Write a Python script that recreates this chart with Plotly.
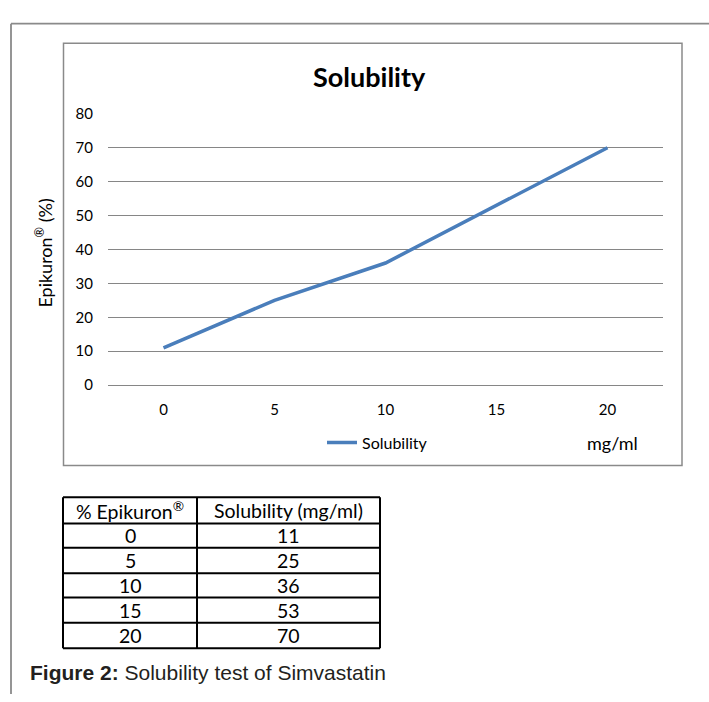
import plotly.graph_objects as go

# ---- data ----
epikuron = [0, 5, 10, 15, 20]
solubility = [11, 25, 36, 53, 70]
y_ticks = [0, 10, 20, 30, 40, 50, 60, 70, 80]
series_name = "Solubility"
table_headers = ["% Epikuron®", "Solubility (mg/ml)"]

W, H = 709, 702
FONT = "Lato"


def px(x):
    return x / W


def py(y):
    return 1 - y / H


fig = go.Figure()
fig.add_trace(go.Scatter(
    x=epikuron, y=solubility, mode="lines", name=series_name,
    line=dict(color="#4a7ebb", width=3.5),
))

shapes = []
annotations = []

# outer frame (left + top)
shapes.append(dict(type="line", xref="paper", yref="paper", x0=px(11), x1=px(709),
                   y0=py(14), y1=py(14), line=dict(color="#8a8a8a", width=1.8)))
shapes.append(dict(type="line", xref="paper", yref="paper", x0=px(11), x1=px(11),
                   y0=py(14), y1=py(702), line=dict(color="#8a8a8a", width=1.8)))
# chart box
shapes.append(dict(type="rect", xref="paper", yref="paper", x0=px(63.5), x1=px(682),
                   y0=py(467.5), y1=py(34), line=dict(color="#8a8a8a", width=1.5)))

# title
annotations.append(dict(text="<b>Solubility</b>", xref="paper", yref="paper",
                        x=px(369.5), y=py(68), showarrow=False,
                        font=dict(family=FONT, size=27, color="#000000"),
                        xanchor="center", yanchor="middle"))
# y label
annotations.append(dict(text="Epikuron<sup>®</sup> (%)", xref="paper", yref="paper",
                        x=px(44), y=py(250), showarrow=False, textangle=-90,
                        font=dict(family=FONT, size=18, color="#000000"),
                        xanchor="center", yanchor="middle"))
# mg/ml unit
annotations.append(dict(text="mg/ml", xref="paper", yref="paper",
                        x=px(612), y=py(444), showarrow=False,
                        font=dict(family=FONT, size=18, color="#000000"),
                        xanchor="center", yanchor="middle"))

# table
col_x = [63, 197, 380]
row_y = [500, 527, 552, 578, 603, 629, 655]
tc = dict(color="#000000", width=2)
for y in row_y:
    shapes.append(dict(type="line", xref="paper", yref="paper", x0=px(col_x[0]), x1=px(col_x[-1]),
                       y0=py(y), y1=py(y), line=tc))
for x in col_x:
    shapes.append(dict(type="line", xref="paper", yref="paper", x0=px(x), x1=px(x),
                       y0=py(row_y[0]), y1=py(row_y[-1]), line=tc))
rows = [table_headers] + [[str(a), str(b)] for a, b in zip(epikuron, solubility)]
for r, row in enumerate(rows):
    yc = (row_y[r] + row_y[r + 1]) / 2
    for c, val in enumerate(row):
        xc = (col_x[c] + col_x[c + 1]) / 2
        txt = val.replace("®", "<sup>®</sup>")
        annotations.append(dict(text=txt, xref="paper", yref="paper", x=px(xc), y=py(yc),
                                showarrow=False, xanchor="center", yanchor="middle",
                                font=dict(family=FONT, size=19.5, color="#000000")))

# caption
annotations.append(dict(text="<b>Figure 2:</b> Solubility test of Simvastatin", xref="paper", yref="paper",
                        x=px(28), y=py(680), showarrow=False, xanchor="left", yanchor="middle",
                        font=dict(family="Liberation Sans", size=21, color="#231f20")))

fig.update_layout(
    width=W, height=H, autosize=False,
    margin=dict(l=0, r=0, t=0, b=0),
    paper_bgcolor="white", plot_bgcolor="white",
    shapes=shapes, annotations=annotations,
    showlegend=True,
    legend=dict(orientation="h", x=px(322), y=py(444), xanchor="left", yanchor="middle",
                font=dict(family=FONT, size=16, color="#000000"), bgcolor="rgba(0,0,0,0)"),
    xaxis=dict(domain=[px(108), px(663)], range=[-2.5, 22.5], tickvals=epikuron,
               showgrid=False, zeroline=False, showline=False, ticks="",
               ticklabelstandoff=14, tickfont=dict(family=FONT, size=15, color="#000000")),
    yaxis=dict(domain=[py(385), py(106.5)], range=[0, 80], tickvals=y_ticks,
               showgrid=True, gridcolor="#868686", gridwidth=1,
               zeroline=True, zerolinecolor="#868686", zerolinewidth=1,
               showline=False, ticks="", ticklabelstandoff=14,
               tickfont=dict(family=FONT, size=15, color="#000000")),
)

fig.write_html("out.html", config={"displayModeBar": False},
               post_script="document.body.style.margin='0px';document.body.style.overflow='hidden';")
